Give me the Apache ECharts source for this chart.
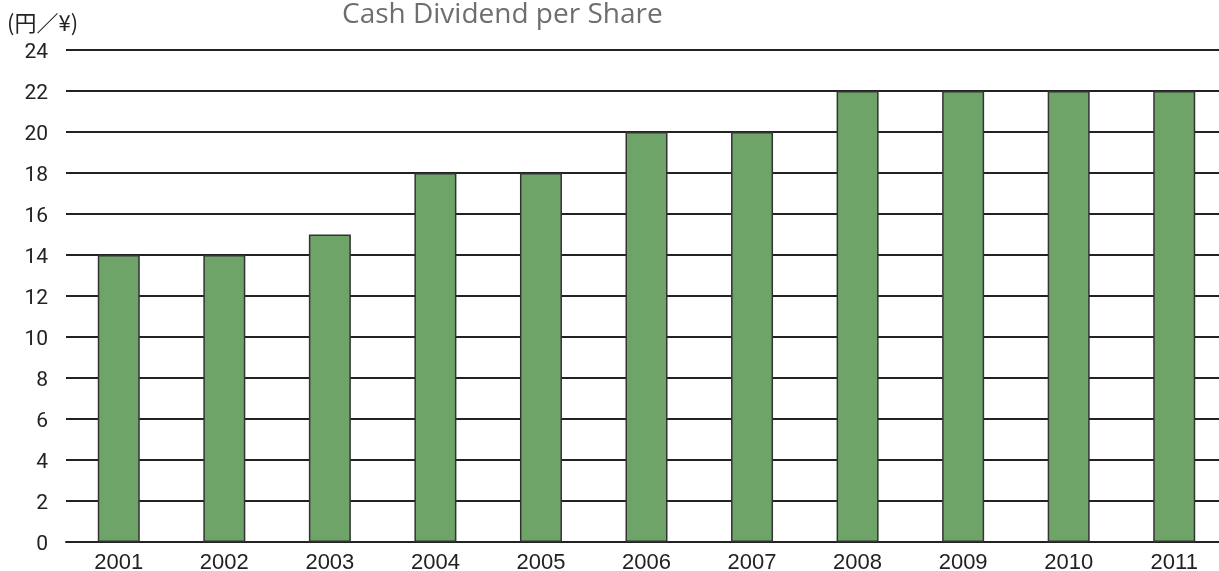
<!DOCTYPE html>
<html>
<head>
<meta charset="utf-8">
<script src="https://cdn.jsdelivr.net/npm/echarts@6/dist/echarts.min.js"></script>
<style>
  html, body { margin: 0; padding: 0; background: #fff; }
  #chart { width: 1219px; height: 571px; }
</style>
</head>
<body>
<div id="chart"></div>
<script>
  const years = ['2001', '2002', '2003', '2004', '2005', '2006', '2007', '2008', '2009', '2010', '2011']
  const dividend = [14, 14, 15, 18, 18, 20, 20, 22, 22, 22, 22]

  const chart = echarts.init(document.getElementById('chart'))
  chart.setOption({
    animation: false,
    title: {
      text: 'Cash Dividend per Share',
      left: 337,
      top: -4,
      textStyle: {
        color: '#6e6e6e',
        fontFamily: 'Open Sans',
        fontWeight: 'normal',
        fontSize: 28
      }
    },
    graphic: [{
      type: 'text',
      left: 7,
      top: 12,
      style: {
        text: '(円／¥)',
        fontFamily: 'Noto Sans CJK JP',
        fontSize: 22,
        fill: '#222'
      }
    }],
    grid: {
      left: 66,
      right: -8,
      top: 50,
      bottom: 29,
      containLabel: false,
      outerBoundsMode: 'none'
    },
    xAxis: {
      type: 'category',
      data: years,
      axisLine: { show: true, lineStyle: { color: '#222', width: 2 } },
      axisTick: { show: false },
      axisLabel: {
        color: '#222',
        fontFamily: 'Liberation Sans',
        fontSize: 22,
        margin: 10
      }
    },
    yAxis: {
      type: 'value',
      min: 0,
      max: 24,
      interval: 2,
      axisLine: { show: false },
      axisTick: { show: false },
      axisLabel: {
        color: '#222',
        fontFamily: 'Roboto',
        fontSize: 21,
        margin: 18,
        verticalAlign: 'top',
        lineHeight: 6
      },
      splitLine: { lineStyle: { color: '#222', width: 2 } }
    },
    series: [{
      type: 'bar',
      data: dividend,
      barWidth: 42,
      itemStyle: {
        color: '#6fa468',
        borderColor: '#333',
        borderWidth: 1.5
      }
    }]
  })
</script>
</body>
</html>
